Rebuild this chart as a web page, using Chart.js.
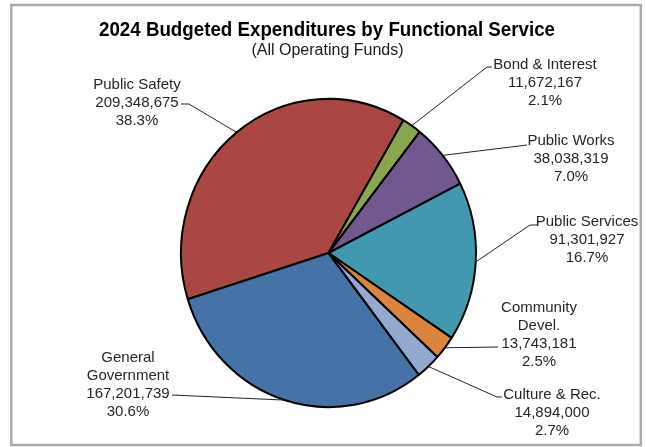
<!DOCTYPE html>
<html>
<head>
<meta charset="utf-8">
<script src="https://cdn.jsdelivr.net/npm/chart.js@4.4.1/dist/chart.umd.min.js"></script>
<style>
  html, body { margin: 0; padding: 0; background: #ffffff; }
  #wrap { width: 646px; height: 447px; position: relative; }
  canvas { display: block; }
</style>
</head>
<body>
<div id="wrap"><canvas id="c" width="646" height="447"></canvas></div>
<script>
// ---- data ----
const titleText = '2024 Budgeted Expenditures by Functional Service';
const subtitleText = '(All Operating Funds)';
const categories = ['Public Safety', 'Bond & Interest', 'Public Works', 'Public Services', 'Community Devel.', 'Culture & Rec.', 'General Government'];
const amounts = [209348675, 11672167, 38038319, 91301927, 13743181, 14894000, 167201739];
const sliceColors = ['#AA4643', '#89A54E', '#71588F', '#4198AF', '#DB843D', '#93A9CF', '#4572A7'];

// ---- layout (label placement, not data) ----
const labelLayout = [
  { x: 137, y: 83,  split: false, path: [[181, 104], [189, 104]] },
  { x: 545, y: 63,  split: false, path: [[492, 67], [487, 67]] },
  { x: 571, y: 139, split: false, path: [[527, 145]] },
  { x: 587, y: 220, split: false, path: [[537, 225], [530, 225]] },
  { x: 539, y: 306, split: true,  path: [[498, 347]] },
  { x: 552, y: 393, split: false, path: [[502, 397], [497, 397]] },
  { x: 128, y: 356, split: true,  path: [[172, 395]] }
];
const Y_STRETCH = 1.045;
const FONT = '"Liberation Sans", Arial, Helvetica, sans-serif';

const total = amounts.reduce((a, b) => a + b, 0);
const fmt = new Intl.NumberFormat('en-US');

const decorPlugin = {
  id: 'decor',
  beforeDatasetsDraw(chart) {
    const meta = chart.getDatasetMeta(0);
    const a = meta.data[0];
    const ctx = chart.ctx;
    ctx.save();
    ctx.translate(a.x, a.y);
    ctx.scale(1, Y_STRETCH);
    ctx.translate(-a.x, -a.y);
  },
  afterDatasetsDraw(chart) {
    chart.ctx.restore();
  },
  afterDraw(chart) {
    const ctx = chart.ctx;
    ctx.save();
    // frame
    ctx.strokeStyle = '#ababab';
    ctx.lineWidth = 2.5;
    ctx.strokeRect(11.3, 5, 629.5, 440);

    // title
    ctx.fillStyle = '#000000';
    ctx.textAlign = 'center';
    ctx.textBaseline = 'alphabetic';
    ctx.font = 'bold 20px ' + FONT;
    const tw = ctx.measureText(titleText).width;
    ctx.save();
    ctx.translate(327, 36);
    ctx.scale(456 / tw, 1);
    ctx.fillText(titleText, 0, 0);
    ctx.restore();

    ctx.fillStyle = '#1a1a1a';
    ctx.font = '16px ' + FONT;
    ctx.fillText(subtitleText, 327.5, 55);

    // labels & leader lines
    const meta = chart.getDatasetMeta(0);
    meta.data.forEach((arc, i) => {
      const L = labelLayout[i];
      const mid = (arc.startAngle + arc.endAngle) / 2;
      const R = arc.outerRadius;
      const ex = arc.x + Math.cos(mid) * R;
      const ey = arc.y + Math.sin(mid) * R * Y_STRETCH;
      ctx.strokeStyle = '#222222';
      ctx.lineWidth = 1;
      ctx.beginPath();
      ctx.moveTo(L.path[0][0], L.path[0][1]);
      for (let k = 1; k < L.path.length; k++) ctx.lineTo(L.path[k][0], L.path[k][1]);
      ctx.lineTo(ex, ey);
      ctx.stroke();

      const name = categories[i];
      const nameLines = L.split ? name.split(' ') : [name];
      const lines = nameLines.concat([fmt.format(amounts[i]), (amounts[i] / total * 100).toFixed(1) + '%']);
      ctx.fillStyle = '#262626';
      ctx.font = '15px ' + FONT;
      ctx.textAlign = 'center';
      ctx.textBaseline = 'alphabetic';
      lines.forEach((t, k) => {
        ctx.fillText(t, L.x, L.y + k * 18.3 + 5.5);
      });
    });
    ctx.restore();
  }
};

new Chart(document.getElementById('c'), {
  type: 'pie',
  data: {
    labels: categories,
    datasets: [{
      data: amounts,
      backgroundColor: sliceColors,
      borderColor: '#000000',
      borderWidth: 2,
      hoverOffset: 0,
      offset: 0
    }]
  },
  options: {
    responsive: false,
    animation: false,
    rotation: 252.5,
    layout: { padding: { left: 180, right: 169, top: 104.5, bottom: 45.5 } },
    plugins: {
      legend: { display: false },
      title: { display: false },
      tooltip: { enabled: false }
    },
    events: []
  },
  plugins: [decorPlugin]
});
</script>
</body>
</html>
